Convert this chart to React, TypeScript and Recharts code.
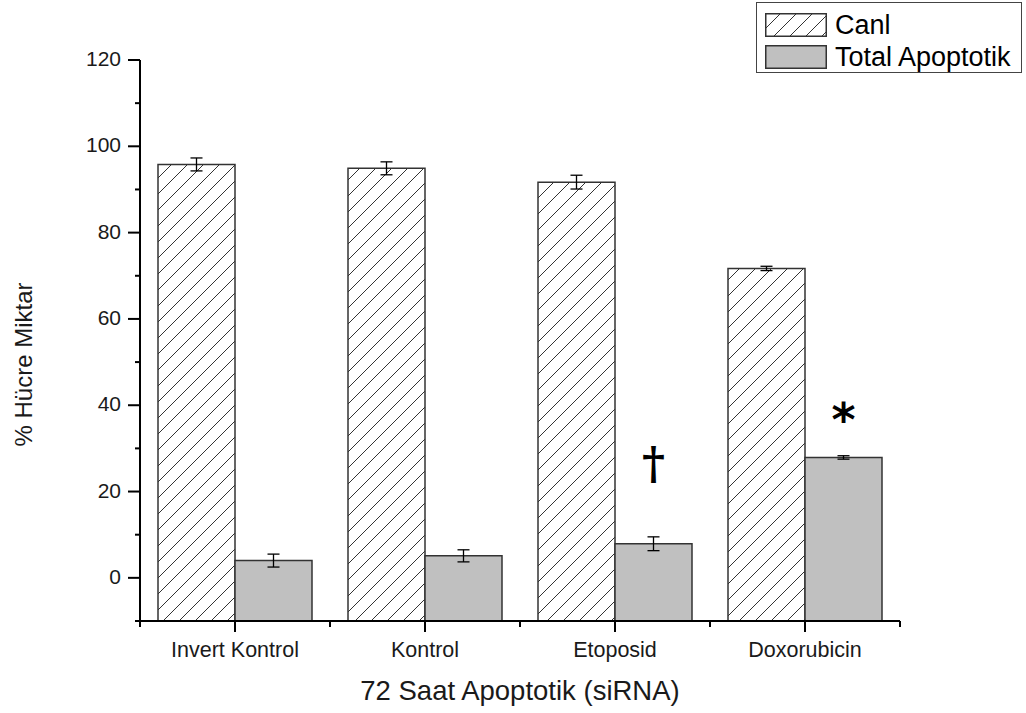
import React from 'react';
import { BarChart, Bar, XAxis, YAxis, ErrorBar, LabelList, Legend } from 'recharts';

const categories = ['Invert Kontrol', 'Kontrol', 'Etoposid', 'Doxorubicin'];
const canliValues = [95.8, 94.9, 91.7, 71.7];
const canliErrors = [1.5, 1.5, 1.6, 0.5];
const apoptotikValues = [4.0, 5.1, 7.9, 27.9];
const apoptotikErrors = [1.5, 1.4, 1.6, 0.4];
const apoptotikMarks = ['', '', '†', '*'];
const yTicks = [-10, 0, 10, 20, 30, 40, 50, 60, 70, 80, 90, 100, 110, 120];
const yLabelTicks = [0, 20, 40, 60, 80, 100, 120];
const Y_MIN = -10;
const Y_MAX = 120;

const seriesNames = ['Canl', 'Total Apoptotik'];

const data = categories.map((name, i) => ({
  name,
  canli: canliValues[i],
  canliErr: canliErrors[i],
  apoptotik: apoptotikValues[i],
  apoptotikErr: apoptotikErrors[i],
}));

const CHART_W = 1026;
const CHART_H = 713;
const MARGIN = { top: 60, right: 126, bottom: 0, left: 0 };
const Y_AXIS_W = 140;
const X_AXIS_H = 92;
const BAND = (CHART_W - MARGIN.left - MARGIN.right - Y_AXIS_W) / categories.length;

const FONT = '"Liberation Sans", Arial, Helvetica, sans-serif';
const TEXT_COLOR = '#1a1a1a';
const HATCH_FILL = 'url(#hatchPattern)';
const GREY_FILL = '#c0c0c0';
const OUTLINE = '#333';

const markStyles: Record<string, { font: string; size: number; lift: number }> = {
  '†': { font: '"DejaVu Serif", serif', size: 44, lift: 65 },
  '*': { font: '"DejaVu Sans", sans-serif', size: 46, lift: 21 },
};

const HatchDefs = ({ id }: { id: string }) => (
  <defs>
    <pattern id={id} patternUnits="userSpaceOnUse" width={16} height={16}>
      <rect x={0} y={0} width={16} height={16} fill="#fff" />
      <path d="M0,16 L16,0 M-2,2 L2,-2 M14,18 L18,14" stroke="#333" strokeWidth={1} />
    </pattern>
  </defs>
);

const YTick = (props: any) => {
  const { x, y, payload } = props;
  const v = payload.value as number;
  const major = yLabelTicks.includes(v);
  return (
    <g>
      <line x1={x - (major ? 12 : 5)} y1={y} x2={x} y2={y} stroke="#000" strokeWidth={2} />
      {major && (
        <text x={x - 19} y={y + 6} textAnchor="end" fontFamily={FONT} fontSize={21} fill={TEXT_COLOR}>
          {v}
        </text>
      )}
    </g>
  );
};

const XTick = (props: any) => {
  const { x, y, payload } = props;
  const half = BAND / 2;
  return (
    <g>
      <line x1={x} y1={y} x2={x} y2={y + 11} stroke="#000" strokeWidth={2} />
      <line x1={x - half} y1={y} x2={x - half} y2={y + 6} stroke="#000" strokeWidth={2} />
      <line x1={x + half} y1={y} x2={x + half} y2={y + 6} stroke="#000" strokeWidth={2} />
      <text x={x} y={y + 36} textAnchor="middle" fontFamily={FONT} fontSize={21.5} fill={TEXT_COLOR}>
        {payload.value}
      </text>
    </g>
  );
};

const renderMark = (props: any) => {
  const vb = props.viewBox ?? props;
  const { x, y, width } = vb;
  const mark = apoptotikMarks[props.index];
  if (!mark) return null;
  const st = markStyles[mark];
  return (
    <text
      x={x + width / 2}
      y={y - st.lift}
      textAnchor="middle"
      fontFamily={st.font}
      fontSize={st.size}
      fontWeight="bold"
      fill="#000"
    >
      {mark}
    </text>
  );
};

const LegendBox = () => (
  <div
    style={{
      boxSizing: 'border-box',
      width: 266,
      height: 71,
      border: '1.5px solid #444',
      background: '#fff',
      padding: '6px 0 0 8px',
      fontFamily: FONT,
      fontSize: 27,
      color: '#000',
      lineHeight: '32px',
    }}
  >
    {seriesNames.map((n, i) => (
      <div key={n} style={{ display: 'flex', alignItems: 'center', height: 32 }}>
        <svg width={62} height={24} style={{ display: 'block' }}>
          {i === 0 && <HatchDefs id="hatchLegend" />}
          <rect
            x={0.75}
            y={0.75}
            width={60.5}
            height={22.5}
            fill={i === 0 ? 'url(#hatchLegend)' : GREY_FILL}
            stroke={OUTLINE}
            strokeWidth={1.5}
          />
        </svg>
        <span style={{ marginLeft: 8 }}>{n}</span>
      </div>
    ))}
  </div>
);

export default function App() {
  return (
    <div style={{ position: 'absolute', left: 0, top: 0, width: CHART_W, height: CHART_H, background: '#fff' }}>
      <BarChart
        width={CHART_W}
        height={CHART_H}
        data={data}
        margin={MARGIN}
        barCategoryGap={18}
        barGap={0}
      >
        <HatchDefs id="hatchPattern" />
        <XAxis
          dataKey="name"
          height={X_AXIS_H}
          tickSize={0}
          tickMargin={0}
          tickLine={false}
          interval={0}
          tick={<XTick />}
          axisLine={{ stroke: '#000', strokeWidth: 2 }}
          label={{
            content: (p: any) => {
              const vb = p.viewBox;
              return (
                <text
                  x={vb.x + vb.width / 2}
                  y={vb.y + 79}
                  textAnchor="middle"
                  fontFamily={FONT}
                  fontSize={27.5}
                  fill={TEXT_COLOR}
                >
                  72 Saat Apoptotik (siRNA)
                </text>
              );
            },
          }}
        />
        <YAxis
          width={Y_AXIS_W}
          type="number"
          domain={[Y_MIN, Y_MAX]}
          ticks={yTicks}
          interval={0}
          tickSize={0}
          tickMargin={0}
          tickLine={false}
          tick={<YTick />}
          axisLine={{ stroke: '#000', strokeWidth: 2 }}
          allowDataOverflow
          label={{
            content: (p: any) => {
              const vb = p.viewBox;
              const bx = vb.x + 32;
              const cy = vb.y + vb.height / 2 + 24;
              return (
                <text
                  x={bx}
                  y={cy}
                  transform={`rotate(-90 ${bx} ${cy})`}
                  textAnchor="middle"
                  fontFamily={FONT}
                  fontSize={24}
                  fill={TEXT_COLOR}
                >
                  % Hücre Miktar
                </text>
              );
            },
          }}
        />
        <Legend
          layout="vertical"
          align="center"
          verticalAlign="middle"
          wrapperStyle={{ left: 756, top: 2, width: 266, height: 71 }}
          content={() => <LegendBox />}
        />
        <Bar
          name={seriesNames[0]}
          dataKey={(d: any) => [Y_MIN, d.canli]}
          fill={HATCH_FILL}
          stroke={OUTLINE}
          strokeWidth={1.5}
          isAnimationActive={false}
        >
          <ErrorBar dataKey="canliErr" width={6} stroke="#000" strokeWidth={1.3} direction="y" />
        </Bar>
        <Bar
          name={seriesNames[1]}
          dataKey={(d: any) => [Y_MIN, d.apoptotik]}
          fill={GREY_FILL}
          stroke={OUTLINE}
          strokeWidth={1.5}
          isAnimationActive={false}
        >
          <ErrorBar dataKey="apoptotikErr" width={6} stroke="#000" strokeWidth={1.3} direction="y" />
          <LabelList content={renderMark} />
        </Bar>
      </BarChart>
    </div>
  );
}
